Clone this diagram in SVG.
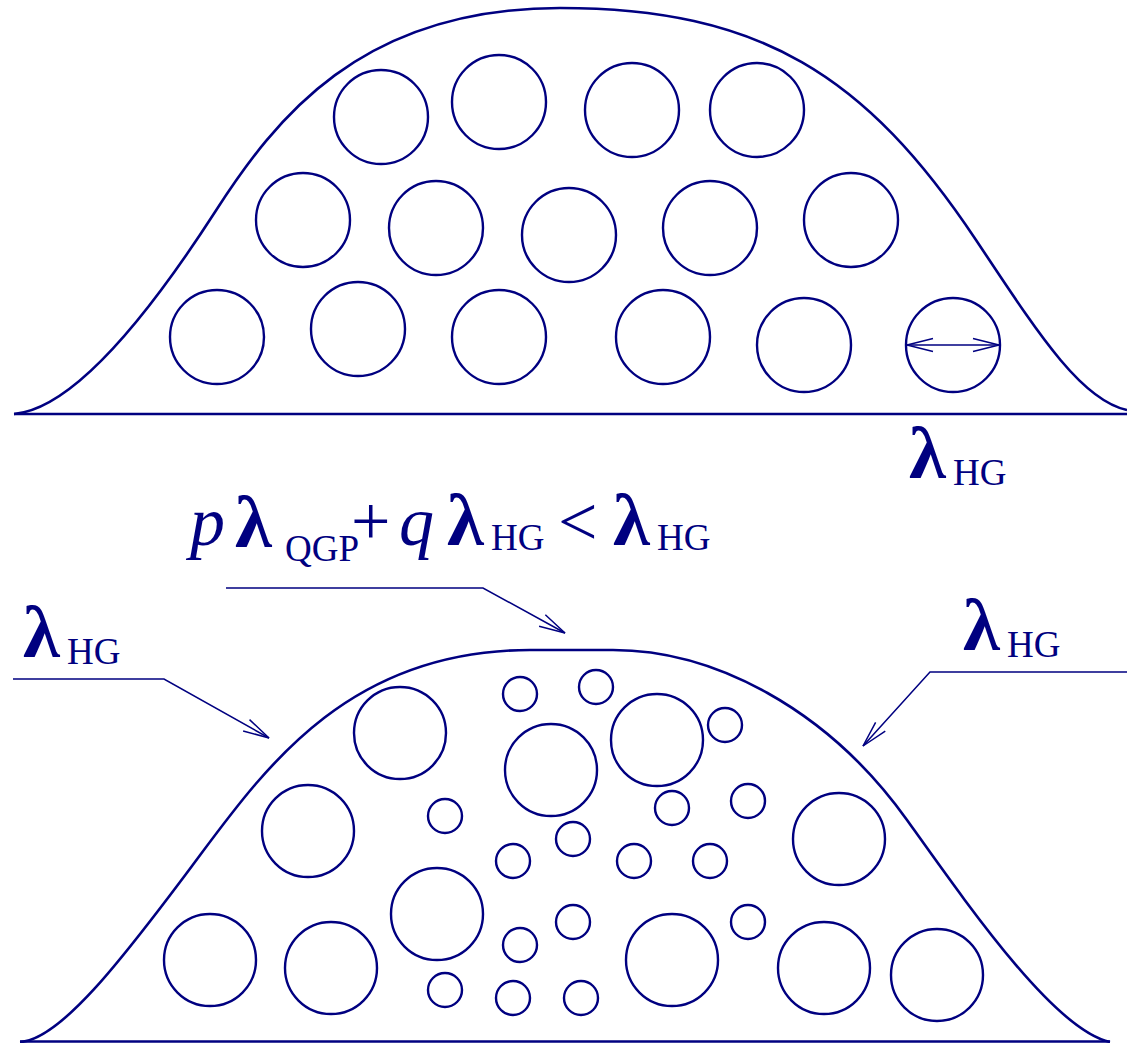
<svg xmlns="http://www.w3.org/2000/svg" width="1127" height="1043" viewBox="0 0 1127 1043">
<style>
.o{fill:none;stroke:#000080;stroke-width:2.6}
.c{fill:none;stroke:#000080;stroke-width:2.4}
.l{fill:none;stroke:#000080;stroke-width:1.5}
.t{fill:#000080;font-family:"Liberation Serif","Times New Roman",serif}
.lam{font-weight:bold;font-size:75px}
.big{font-size:70px}
.sub{font-size:37px}
.it{font-style:italic;font-size:70px}
</style>
<defs>
<marker id="ah" markerUnits="userSpaceOnUse" viewBox="-30 -10 32 20" refX="0" refY="0" markerWidth="32" markerHeight="20" orient="auto-start-reverse">
<path d="M-26,-6.5 L0,0 L-26,6.5" fill="none" stroke="#000080" stroke-width="1.5"/>
</marker>
</defs>
<rect width="1127" height="1043" fill="#fff"/>
<g id="top-profile">
<line class="o" x1="14" y1="414" x2="1127" y2="414"/>
<path class="o" d="M14,414 C60,410 125,351.5 215,212 C275,119 360,8 560,8 C760,8 866,75 976,240 C1036,330 1080,400 1127,410"/>
</g>
<g id="top-hadrons">
<circle class="c" cx="381" cy="117" r="47"/>
<circle class="c" cx="499" cy="102" r="47"/>
<circle class="c" cx="632" cy="110" r="47"/>
<circle class="c" cx="757" cy="110" r="47"/>
<circle class="c" cx="303" cy="220" r="47"/>
<circle class="c" cx="436" cy="228" r="47"/>
<circle class="c" cx="569" cy="235" r="47"/>
<circle class="c" cx="710" cy="228" r="47"/>
<circle class="c" cx="851" cy="220" r="47"/>
<circle class="c" cx="217" cy="337" r="47"/>
<circle class="c" cx="358" cy="329" r="47"/>
<circle class="c" cx="499" cy="337" r="47"/>
<circle class="c" cx="663" cy="337" r="47"/>
<circle class="c" cx="804" cy="345" r="47"/>
<circle class="c" cx="953" cy="345" r="47"/>
</g>
<g id="top-label">
<text class="t lam" x="909" y="478">λ</text>
<text class="t sub" x="953" y="485">HG</text>
</g>
<g id="equation">
<text class="t it" x="190" y="545">p</text>
<text class="t lam" x="235" y="547">λ</text>
<text class="t sub" x="285" y="561">QGP</text>
<text class="t big" x="351" y="545">+</text>
<text class="t it" x="399" y="545">q</text>
<text class="t lam" x="447" y="545">λ</text>
<text class="t sub" x="491" y="550">HG</text>
<text class="t big" x="558" y="545">&lt;</text>
<text class="t lam" x="613" y="545">λ</text>
<text class="t sub" x="657" y="550">HG</text>
</g>
<g id="left-label">
<text class="t lam" x="23" y="657">λ</text>
<text class="t sub" x="67" y="664">HG</text>
</g>
<g id="right-label">
<text class="t lam" x="963" y="650">λ</text>
<text class="t sub" x="1007" y="657">HG</text>
</g>
<g id="bottom-profile">
<line class="o" x1="20" y1="1041.5" x2="1110" y2="1041.5"/>
<path class="o" d="M20,1042 C60,1040 122,959.8 192,866 C262,772.2 345,650 530,650 L613,650 C713,650 827,708 907,820 C972,911 1055,1030 1110,1042"/>
</g>
<g id="bottom-hadrons">
<circle class="c" cx="400" cy="733" r="46"/>
<circle class="c" cx="551" cy="770" r="46"/>
<circle class="c" cx="657" cy="740" r="46"/>
<circle class="c" cx="308" cy="831" r="46"/>
<circle class="c" cx="839" cy="839" r="46"/>
<circle class="c" cx="437" cy="914" r="46"/>
<circle class="c" cx="672" cy="960" r="46"/>
<circle class="c" cx="210" cy="960" r="46"/>
<circle class="c" cx="331" cy="968" r="46"/>
<circle class="c" cx="824" cy="968" r="46"/>
<circle class="c" cx="937" cy="975" r="46"/>
</g>
<g id="bottom-qgp">
<circle class="c" cx="520" cy="694" r="17"/>
<circle class="c" cx="596" cy="687" r="17"/>
<circle class="c" cx="725" cy="725" r="17"/>
<circle class="c" cx="445" cy="816" r="17"/>
<circle class="c" cx="672" cy="808" r="17"/>
<circle class="c" cx="748" cy="801" r="17"/>
<circle class="c" cx="573" cy="839" r="17"/>
<circle class="c" cx="513" cy="861" r="17"/>
<circle class="c" cx="634" cy="861" r="17"/>
<circle class="c" cx="710" cy="861" r="17"/>
<circle class="c" cx="520" cy="945" r="17"/>
<circle class="c" cx="573" cy="922" r="17"/>
<circle class="c" cx="748" cy="922" r="17"/>
<circle class="c" cx="445" cy="990" r="17"/>
<circle class="c" cx="513" cy="998" r="17"/>
<circle class="c" cx="581" cy="998" r="17"/>
</g>
<g id="connectors">
<line class="l" x1="907" y1="345" x2="999" y2="345" marker-start="url(#ah)" marker-end="url(#ah)"/>
<polyline class="l" points="226,588 483,588 565,633" marker-end="url(#ah)"/>
<polyline class="l" points="13,679 164,679 269,738" marker-end="url(#ah)"/>
<polyline class="l" points="1127,672 930,672 863,746" marker-end="url(#ah)"/>
</g>
</svg>
